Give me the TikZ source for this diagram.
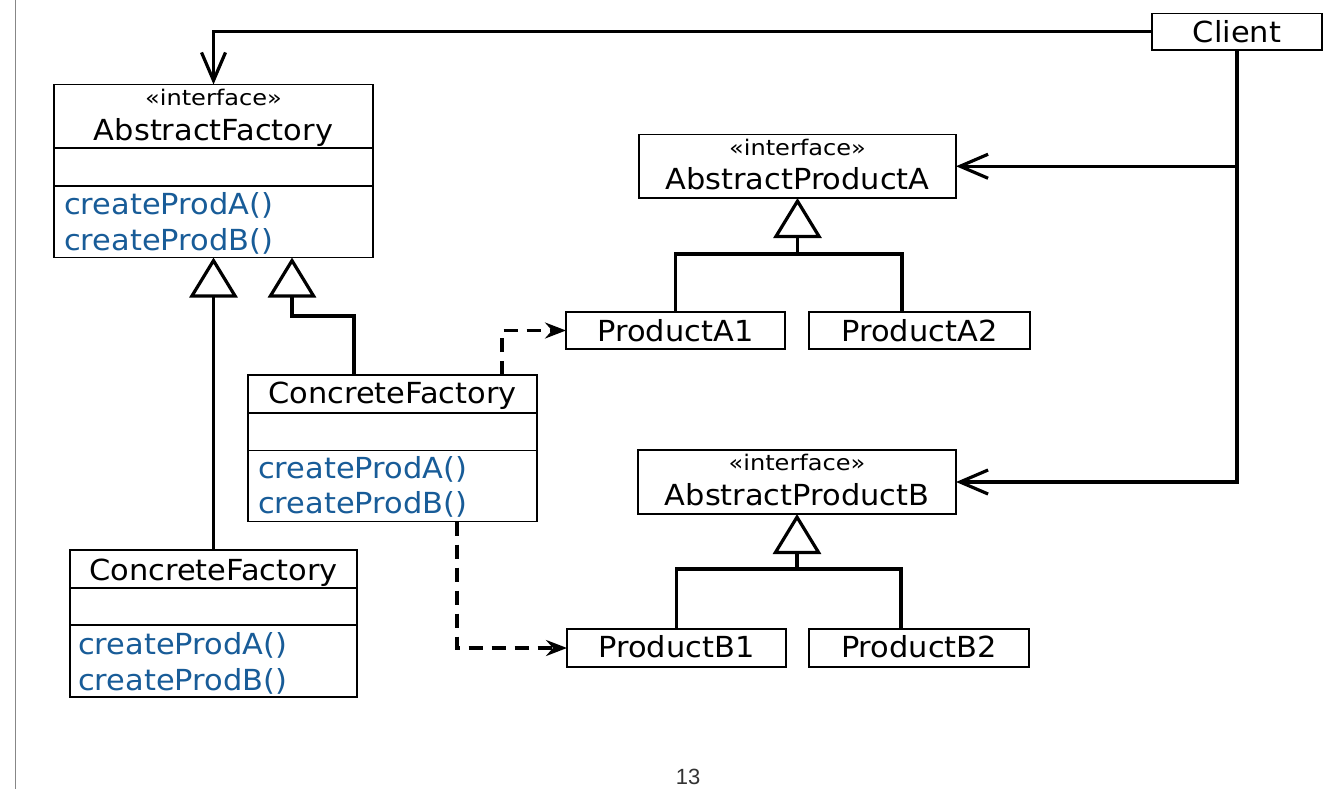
\documentclass[tikz,border=0pt]{standalone}
\usepackage{fontspec}
\setmainfont{DejaVu Sans}[FakeStretch=1.05]
\newfontfamily\stereofont{DejaVu Sans}[FakeStretch=1.12]
\newfontfamily\pnfont{Liberation Sans}
\usetikzlibrary{arrows.meta,calc}
\definecolor{opblue}{RGB}{24,92,152}
\definecolor{pagegray}{RGB}{135,135,135}
\begin{document}
\begin{tikzpicture}[x=1pt,y=-1pt,
  box/.style={draw, line width=1.5pt, inner sep=0pt, outer sep=0pt, anchor=north west},
  ttl/.style={font=\fontsize{29}{34}\selectfont, anchor=base, inner sep=0pt},
  stereo/.style={font=\stereofont\fontsize{21.5}{25}\selectfont, anchor=base, inner sep=0pt},
  op/.style={font=\fontsize{29}{34}\selectfont, text=opblue, anchor=base west, inner sep=0pt},
  divider/.style={line width=1.5pt},
  conn/.style={line width=3.2pt},
  assoc/.style={conn, -{Straight Barb[length=28pt,width=24pt]}},
  inh/.style={conn, -{Triangle[length=40pt,width=48pt,fill=white]}},
  dep/.style={conn, dash pattern=on 14pt off 9pt, -{Stealth[length=21pt,width=16pt,inset=7pt]}}]

\useasboundingbox (0,0) rectangle (1338,789);
\fill[white] (0,0) rectangle (1338,789);
\draw[pagegray, line width=1.8pt] (15.5,0) -- (15.5,789);

% AbstractFactory
\node[box, minimum width=319pt, minimum height=173pt] (af) at (54,84.5) {};
\draw[divider] ($(af.north west)+(0,63.5)$) -- ($(af.north east)+(0,63.5)$);
\draw[divider] ($(af.north west)+(0,101.5)$) -- ($(af.north east)+(0,101.5)$);
\node[stereo] (afs) at (213.5,106) {«interface»};
\node[ttl] (aft) at (213.5,140.7) {AbstractFactory};
\node[op] (afa) at (64,214) {createProdA()};
\node[op] (afb) at (64,250) {createProdB()};

% ConcreteFactory (middle)
\node[box, minimum width=289pt, minimum height=146.5pt] (cf1) at (248,375) {};
\draw[divider] ($(cf1.north west)+(0,38)$) -- ($(cf1.north east)+(0,38)$);
\draw[divider] ($(cf1.north west)+(0,75.5)$) -- ($(cf1.north east)+(0,75.5)$);
\node[ttl] (cf1t) at (392.5,403) {ConcreteFactory};
\node[op] (cf1a) at (258,478) {createProdA()};
\node[op] (cf1b) at (258,513) {createProdB()};

% ConcreteFactory (bottom left)
\node[box, minimum width=287pt, minimum height=147pt] (cf2) at (70,550) {};
\draw[divider] ($(cf2.north west)+(0,38)$) -- ($(cf2.north east)+(0,38)$);
\draw[divider] ($(cf2.north west)+(0,75)$) -- ($(cf2.north east)+(0,75)$);
\node[ttl] (cf2t) at (213.5,580) {ConcreteFactory};
\node[op] (cf2a) at (78,654) {createProdA()};
\node[op] (cf2b) at (78,690) {createProdB()};

% Abstract products
\node[box, minimum width=317pt, minimum height=63.5pt] (apa) at (639,134.5) {};
\node[stereo] (apas) at (797.5,156) {«interface»};
\node[ttl] (apat) at (797.5,189) {AbstractProductA};
\node[box, minimum width=318pt, minimum height=64pt] (apb) at (638,450) {};
\node[stereo] (apbs) at (797,470.7) {«interface»};
\node[ttl] (apbt) at (797,505) {AbstractProductB};

% Products
\node[box, minimum width=219pt, minimum height=37pt] (pa1) at (566,312) {};
\node[ttl] (pa1t) at (675.5,341.7) {ProductA1};
\node[box, minimum width=221pt, minimum height=37pt] (pa2) at (809,312) {};
\node[ttl] (pa2t) at (919.5,341.7) {ProductA2};
\node[box, minimum width=219pt, minimum height=38pt] (pb1) at (567,629) {};
\node[ttl] (pb1t) at (676.5,657) {ProductB1};
\node[box, minimum width=220pt, minimum height=38pt] (pb2) at (809,629) {};
\node[ttl] (pb2t) at (919,657) {ProductB2};

% Client
\node[box, minimum width=170pt, minimum height=36.5pt] (client) at (1152,13.5) {};
\node[ttl] (clientt) at (1237,42.5) {Client};

% Associations from Client
\draw[assoc] (client.west) -| (af.north);
\draw[assoc] (client.south) |- (apa.east);
\draw[assoc] (client.south) |- (apb.east);

% Generalizations
\draw[inh] (cf2.north) -- (af.south);
\coordinate (j1) at (292,316);
\draw[inh] ($(cf1.north west)+(106,0)$) |- (j1) -- (j1 |- af.south);
\coordinate (ja) at (797.5,254);
\draw[inh] (pa1.north) |- (ja) -- (apa.south);
\draw[conn] ($(pa2.north west)+(93,0)$) |- (ja);
\coordinate (jb) at (797,569);
\draw[inh] (pb1.north) |- (jb) -- (apb.south);
\draw[conn] ($(pb2.north west)+(92,0)$) |- (jb);

% Dependencies
\draw[dep] ($(cf1.north west)+(254,0)$) |- (pa1.west);
\draw[dep] ($(cf1.south west)+(209,0)$) |- (pb1.west);

% page number
\node[font=\pnfont\fontsize{22}{26}\selectfont, text=black!80, anchor=base, inner sep=0pt] (pg) at (688,784) {13};
\end{tikzpicture}
\end{document}
